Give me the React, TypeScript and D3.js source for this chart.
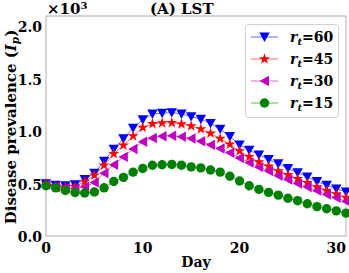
import React from "react";
import * as d3 from "d3";

const days = d3.range(0, 32);
const r60 = [0.50,0.485,0.48,0.49,0.54,0.60,0.715,0.83,0.93,1.03,1.11,1.165,1.172,1.178,1.165,1.14,1.115,1.075,1.02,0.95,0.87,0.82,0.775,0.73,0.69,0.645,0.605,0.565,0.52,0.485,0.45,0.42];
const r45 = [0.50,0.475,0.465,0.47,0.52,0.58,0.675,0.785,0.865,0.955,1.035,1.072,1.078,1.08,1.068,1.05,1.02,0.98,0.93,0.875,0.81,0.755,0.705,0.665,0.62,0.585,0.545,0.507,0.468,0.433,0.40,0.368];
const r30 = [0.49,0.47,0.455,0.45,0.47,0.51,0.60,0.68,0.755,0.83,0.90,0.935,0.952,0.957,0.948,0.93,0.905,0.87,0.835,0.795,0.745,0.70,0.657,0.62,0.575,0.54,0.50,0.468,0.433,0.395,0.365,0.33];
const r15 = [0.48,0.46,0.435,0.415,0.41,0.42,0.46,0.52,0.56,0.61,0.645,0.675,0.68,0.683,0.676,0.66,0.65,0.63,0.61,0.57,0.525,0.48,0.445,0.416,0.39,0.36,0.337,0.308,0.28,0.26,0.24,0.218];
const seriesLabels = ["60", "45", "30", "15"];
const xTicks = [0, 10, 20, 30];
const yTicks = [0, 0.5, 1.0, 1.5, 2.0];

const FONT = "DejaVu Serif";

const series = [
  { label: seriesLabels[0], values: r60, color: "#0000ff", marker: "down" },
  { label: seriesLabels[1], values: r45, color: "#ff0000", marker: "star" },
  { label: seriesLabels[2], values: r30, color: "#bf00bf", marker: "left" },
  { label: seriesLabels[3], values: r15, color: "#008000", marker: "circle" },
];

function Marker({ type, x, y, color }: { type: string; x: number; y: number; color: string }) {
  if (type === "circle") return <circle cx={x} cy={y} r={4.7} fill={color} />;
  if (type === "down") {
    const s = 5.2;
    return <path d={`M${x - s},${y - s * 0.85}L${x + s},${y - s * 0.85}L${x},${y + s * 0.95}Z`} fill={color} />;
  }
  if (type === "left") {
    const s = 5.2;
    return <path d={`M${x - s * 0.95},${y}L${x + s * 0.85},${y - s}L${x + s * 0.85},${y + s}Z`} fill={color} />;
  }
  const star = d3.symbol().type(d3.symbolStar).size(38)();
  return <path d={star as string} transform={`translate(${x},${y})`} fill={color} />;
}

export default function App() {
  const W = 349, H = 273;
  const x = d3.scaleLinear().domain([0, 31]).range([46, 346]);
  const y = d3.scaleLinear().domain([0, 2.1]).range([236, 16]);
  const line = d3.line<number>().x((_, i) => x(days[i])).y((d) => y(d));
  const legendRows = [37, 59, 81, 103];

  return (
    <svg width={W} height={H} style={{ position: "absolute", left: 0, top: 0, background: "#fff" }} fontFamily={FONT}>
      <rect x={0} y={0} width={W} height={H} fill="#fff" />
      <rect x={x(0)} y={y(2.1)} width={x(31) - x(0)} height={y(0) - y(2.1)} fill="none" stroke="#b0b0b0" strokeWidth={1} />
      {series.map((s) => (
        <g key={s.label}>
          <path d={line(s.values) as string} fill="none" stroke={s.color} strokeOpacity={0.6} strokeWidth={1} />
          {s.values.map((v, i) => (
            <Marker key={i} type={s.marker} x={x(days[i])} y={y(v)} color={s.color} />
          ))}
        </g>
      ))}
      {yTicks.map((t) => (
        <text key={t} x={42} y={y(t) + 6} textAnchor="end" fontSize={14} fontWeight="bold">
          {t.toFixed(1)}
        </text>
      ))}
      {xTicks.map((t) => (
        <text key={t} x={x(t)} y={y(0) + 17} textAnchor="middle" fontSize={14} fontWeight="bold">
          {t}
        </text>
      ))}
      <text x={196} y={267} textAnchor="middle" fontSize={14} fontWeight="bold">Day</text>
      <text transform="translate(16,127) rotate(-90)" textAnchor="middle" fontSize={15} fontWeight="bold">
        Disease prevalence (<tspan fontStyle="italic">I</tspan>
        <tspan fontStyle="italic" fontSize={10.5} dy={3}>p</tspan>
        <tspan dy={-3}>)</tspan>
      </text>
      <text x={47} y={14} fontSize={15} fontWeight="bold">
        ×10<tspan fontSize={10} dy={-5.5}>3</tspan>
      </text>
      <text x={150} y={14} fontSize={15} fontWeight="bold">(A) LST</text>
      <rect x={245.5} y={24.5} width={93} height={93} rx={3} fill="#fff" fillOpacity={0.8} stroke="#d0d0d0" />
      {series.map((s, i) => (
        <g key={s.label}>
          <line x1={251} x2={278} y1={legendRows[i]} y2={legendRows[i]} stroke={s.color} strokeOpacity={0.6} />
          <Marker type={s.marker} x={264.5} y={legendRows[i]} color={s.color} />
          <text x={290} y={legendRows[i] + 5} fontSize={14} fontWeight="bold">
            <tspan fontStyle="italic">r</tspan>
            <tspan fontStyle="italic" fontSize={10} dy={3}>t</tspan>
            <tspan dy={-3}>={s.label}</tspan>
          </text>
        </g>
      ))}
    </svg>
  );
}
